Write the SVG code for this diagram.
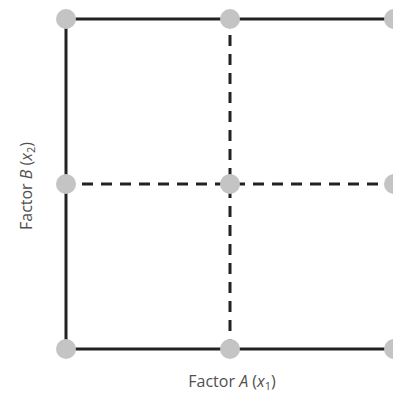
<svg xmlns="http://www.w3.org/2000/svg" width="393" height="394" viewBox="0 0 393 394">
<style>
.solid{stroke:#222;stroke-width:3;fill:none}
.dash{stroke:#222;stroke-width:3;fill:none;stroke-dasharray:11 8}
.pt{fill:#c4c4c4}
.lbl{font-family:"Open Sans","Noto Sans",sans-serif;font-size:16px;fill:#505050}
</style>
<rect width="393" height="394" fill="#fff"/>
<g id="connectors">
<path class="solid" d="M66 19 H396 M66 19 V349 M66 349 H396 M396 19 V349"/>
<path class="dash" d="M82 184 H384"/>
<path class="dash" d="M230 35 V340"/>
</g>
<g id="n1"><circle class="pt" cx="66" cy="19" r="10"/></g>
<g id="n2"><circle class="pt" cx="230" cy="19" r="10"/></g>
<g id="n3"><circle class="pt" cx="394" cy="19" r="10"/></g>
<g id="n4"><circle class="pt" cx="66" cy="184" r="10"/></g>
<g id="n5"><circle class="pt" cx="230" cy="184" r="10"/></g>
<g id="n6"><circle class="pt" cx="394" cy="184" r="10"/></g>
<g id="n7"><circle class="pt" cx="66" cy="349" r="10"/></g>
<g id="n8"><circle class="pt" cx="230" cy="349" r="10"/></g>
<g id="n9"><circle class="pt" cx="394" cy="349" r="10"/></g>
<g id="labels">
<text class="lbl" x="232" y="387" text-anchor="middle">Factor <tspan font-style="italic">A</tspan> (<tspan font-style="italic">x</tspan><tspan font-size="11" dy="3">1</tspan><tspan dy="-3">)</tspan></text>
<text class="lbl" transform="translate(32 186) rotate(-90)" text-anchor="middle">Factor <tspan font-style="italic">B</tspan> (<tspan font-style="italic">x</tspan><tspan font-size="11" dy="3">2</tspan><tspan dy="-3">)</tspan></text>
</g>
</svg>
